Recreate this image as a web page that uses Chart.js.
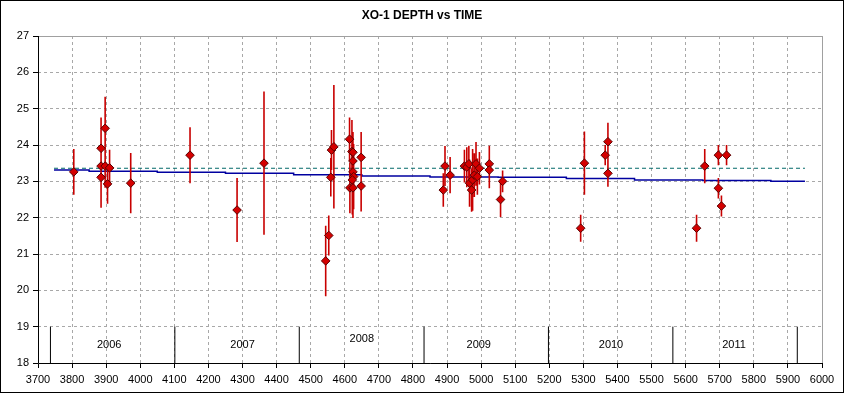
<!DOCTYPE html>
<html><head><meta charset="utf-8">
<script src="https://cdn.jsdelivr.net/npm/chart.js@4/dist/chart.umd.min.js"></script>
<style>html,body{margin:0;padding:0;background:#fff;}#wrap{width:844px;height:393px;position:relative;}</style>
</head><body><div id="wrap"><canvas id="c" width="844" height="393"></canvas></div>
<script>
const titleText = 'XO-1 DEPTH vs TIME';
const obsTime  = [3805,3885,3885,3885,3897,3897,3904,3910,3972,
                  4146,4284,4363,
                  4544,4553,4559,4561,4568,4614,4621,4624,4624,4624,4626,4622,4615,4624,4648,4648,
                  4889,4894,4909,4951,4958,4964,4966,4972,4975,4980,4985,4989,4995,5024,5024,5057,5063,
                  5292,5303,5364,5372,5372,
                  5632,5656,5696,5696,5705,5720];
const obsDepth = [23.26,23.91,23.42,23.11,24.46,23.42,22.93,23.37,22.95,
                  23.72,22.21,23.50,
                  20.81,21.51,23.11,23.86,23.95,24.16,23.82,23.80,23.56,23.26,23.13,23.04,22.82,22.82,23.66,22.87,
                  22.76,23.42,23.17,23.42,23.39,23.48,22.95,22.76,23.04,23.17,23.48,23.13,23.36,23.48,23.31,22.50,23.00,
                  21.71,23.50,23.72,24.09,23.22,
                  21.71,23.42,23.72,22.81,22.32,23.72];
const obsErr   = [0.63,0.85,1.15,0.80,0.87,0.60,0.55,0.50,0.83,
                  0.77,0.88,1.97,
                  0.97,0.55,0.53,0.55,1.70,0.60,0.87,0.55,0.80,0.70,0.90,0.95,0.70,0.83,0.70,0.70,
                  0.46,0.55,0.50,0.45,0.55,0.50,0.65,0.60,0.85,0.60,0.60,0.50,0.45,0.50,0.50,0.48,0.30,
                  0.37,0.87,0.28,0.52,0.37,
                  0.37,0.47,0.28,0.28,0.29,0.28];
const trendTime  = [3747,3850,4050,4250,4450,4650,4850,5050,5250,5450,5650,5850,5950];
const trendDepth = [23.31,23.28,23.25,23.22,23.18,23.15,23.12,23.11,23.08,23.04,23.02,23.00,23.00];
const meanTime  = [3747,5950];
const meanDepth = [23.36,23.36];
const yearBounds = [3736.5,4101.5,4466.5,4832.5,5197.5,5562.5,5927.5];
const yearLabels = ['2006','2007','2008','2009','2010','2011'];
const yearLabelX = [3909,4300,4650,4993,5381,5742];
const yearLabelY = [18.5,18.5,18.66,18.5,18.5,18.5];
const bandLow = 18, bandHigh = 19;

const pts = obsTime.map((t,i)=>({x:t,y:obsDepth[i]}));
const errPts = [];
obsTime.forEach((t,i)=>{errPts.push({x:t,y:obsDepth[i]-obsErr[i]},{x:t,y:obsDepth[i]+obsErr[i]},{x:t,y:null});});
const trendPts = trendTime.map((t,i)=>({x:t,y:trendDepth[i]}));
const meanPts = meanTime.map((t,i)=>({x:t,y:meanDepth[i]}));
const yearPts = [];
yearBounds.forEach(b=>{yearPts.push({x:b,y:bandLow},{x:b,y:bandHigh},{x:b,y:null});});

const FONT = 'Liberation Sans, Arial, sans-serif';
const extras = {
  id:'extras',
  beforeDatasetsDraw(chart){
    const {ctx, chartArea:a} = chart;
    ctx.save();
    ctx.strokeStyle = '#A0A0A0'; ctx.lineWidth = 1;
    ctx.beginPath();
    ctx.moveTo(Math.round(a.left)+0.5, Math.round(a.top)+0.5);
    ctx.lineTo(Math.round(a.right)+0.5, Math.round(a.top)+0.5);
    ctx.lineTo(Math.round(a.right)+0.5, Math.round(a.bottom)+0.5);
    ctx.stroke();
    // solid black axes
    ctx.strokeStyle = '#000';
    ctx.beginPath();
    ctx.moveTo(Math.round(a.left)+0.5, Math.round(a.top));
    ctx.lineTo(Math.round(a.left)+0.5, Math.round(a.bottom)+0.5);
    ctx.lineTo(Math.round(a.right)+1, Math.round(a.bottom)+0.5);
    ctx.stroke();
    ctx.restore();
  },
  afterDatasetsDraw(chart){
    const {ctx, scales:{x,y}} = chart;
    ctx.save();
    ctx.fillStyle = '#000';
    ctx.font = '11px ' + FONT;
    ctx.textAlign = 'center'; ctx.textBaseline = 'middle';
    yearLabels.forEach((l,i)=>ctx.fillText(l, x.getPixelForValue(yearLabelX[i]), y.getPixelForValue(yearLabelY[i])));
    ctx.restore();
  },
  afterDraw(chart){
    const {ctx, width} = chart;
    ctx.save();
    ctx.fillStyle = '#000';
    ctx.font = 'bold 12px ' + FONT;
    ctx.textAlign = 'center'; ctx.textBaseline = 'middle';
    ctx.fillText(titleText, width/2, 16);
    ctx.strokeStyle = '#000'; ctx.lineWidth = 1;
    ctx.strokeRect(0.5,0.5,chart.width-1,chart.height-1);
    ctx.restore();
  }
};

new Chart(document.getElementById('c'), {
  type:'scatter',
  data:{datasets:[
    {data:pts, order:0, pointStyle:'rectRot', pointRadius:4.3, backgroundColor:'#D40000', borderColor:'#5A0000', borderWidth:1, showLine:false},
    {data:errPts, order:1, showLine:true, spanGaps:false, pointRadius:0, borderColor:'#C80000', borderWidth:1.6},
    {data:trendPts, order:2, showLine:true, stepped:true, pointRadius:0, borderColor:'#0000A0', borderWidth:1.5},
    {data:meanPts, order:2, showLine:true, pointRadius:0, borderColor:'#006868', borderWidth:1, borderDash:[4,3]},
    {data:yearPts, order:3, showLine:true, spanGaps:false, pointRadius:0, borderColor:'#000', borderWidth:1}
  ]},
  options:{
    responsive:false, animation:false, devicePixelRatio:1,
    layout:{padding:{top:36,right:22,left:0,bottom:0}},
    plugins:{legend:{display:false}, tooltip:{enabled:false}, title:{display:false}},
    scales:{
      x:{type:'linear', min:3700, max:6000,
         ticks:{stepSize:100, color:'#000', font:{family:FONT,size:11}, padding:5, maxRotation:0, autoSkip:false, callback:v=>String(v)},
         grid:{color:'#A8A8A8', tickLength:5, tickColor:'#000', tickBorderDash:[1,0]},
         border:{display:false, dash:[3,3]},
         afterFit(s){s.height=30;}},
      y:{min:18, max:27,
         ticks:{stepSize:1, color:'#000', font:{family:FONT,size:11}, padding:4, callback:v=>String(v)},
         grid:{color:'#A8A8A8', tickLength:5, tickColor:'#000', tickBorderDash:[1,0]},
         border:{display:false, dash:[3,3]},
         afterFit(s){s.width=38;}}
    }
  },
  plugins:[extras]
});
</script></body></html>
